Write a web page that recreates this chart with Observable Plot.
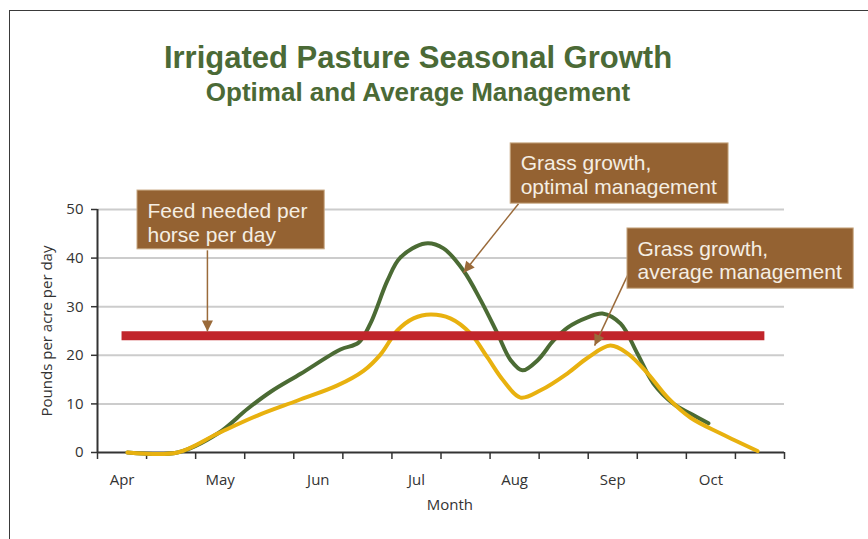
<!DOCTYPE html>
<html>
<head>
<meta charset="utf-8">
<script src="https://cdn.jsdelivr.net/npm/d3@7"></script>
<script src="https://cdn.jsdelivr.net/npm/@observablehq/plot@0.6"></script>
<style>
  body { margin: 0; background: #fff; }
  #wrap { position: relative; width: 868px; height: 539px; overflow: hidden; font-family: "Liberation Sans", Arial, sans-serif; }
  #frame { position: absolute; left: 9px; top: 10px; right: -2px; bottom: -2px; border-top: 1px solid #3a3a3a; border-left: 1px solid #3a3a3a; }
  .t { position: absolute; left: 0; width: 836px; text-align: center; color: #4b6a36; font-weight: bold; white-space: nowrap; }
  #title { top: 42px; font-size: 31px; line-height: 31px; }
  #subtitle { top: 79px; font-size: 26px; line-height: 26px; }
  #chart { position: absolute; left: 0; top: 120px; }
</style>
</head>
<body>
<div id="wrap">
  <div id="frame"></div>
  <div id="title" class="t">Irrigated Pasture Seasonal Growth</div>
  <div id="subtitle" class="t">Optimal and Average Management</div>
  <div id="chart"></div>
</div>
<script>
// ---- Data (x in half-month steps from the start of April) ----
const months = ["Apr", "May", "Jun", "Jul", "Aug", "Sep", "Oct"];
const monthPos = [0.5, 2.5, 4.5, 6.5, 8.5, 10.5, 12.5];
const halfMonthTicks = [0, 1, 2, 3, 4, 5, 6, 7, 8, 9, 10, 11, 12, 13, 14];
const yTicks = [0, 10, 20, 30, 40, 50];
const yGrid = [10, 20, 30, 40, 50];

const optimalX = [0.61, 1.63, 2.45, 3.06, 3.53, 4.14, 4.95, 5.32, 5.56, 5.91, 6.17, 6.68, 7.05, 7.46, 7.81, 8.15, 8.42, 8.66, 8.97, 9.29, 9.58, 9.99, 10.29, 10.66, 11.00, 11.33, 11.74, 12.08, 12.45];
const optimalY = [0, 0, 3.9, 9.0, 12.5, 16.2, 21.2, 22.6, 26.5, 35.4, 40.1, 43, 42, 37.4, 31.3, 24.5, 19, 16.9, 19, 23, 25.7, 27.8, 28.6, 26.5, 20.4, 14.2, 10, 8, 6];

const averageX = [0.61, 1.63, 2.45, 3.26, 4.08, 4.89, 5.42, 5.77, 6.11, 6.44, 6.79, 7.19, 7.60, 7.95, 8.27, 8.62, 9.03, 9.58, 9.99, 10.45, 10.80, 11.21, 11.62, 12.08, 12.70, 13.45];
const averageY = [0, 0, 3.9, 7.6, 10.7, 13.8, 16.8, 20.2, 25.1, 27.6, 28.4, 27.6, 24.5, 19.5, 14.8, 11.3, 12.8, 16.3, 19.5, 22, 20.4, 16.3, 11.3, 7.2, 3.9, 0.3];

const feedNeeded = 24;
const feedFrom = 0.5;
const feedTo = 13.6;

const noteText = ["Feed needed per\nhorse per day", "Grass growth,\noptimal management", "Grass growth,\naverage management"];
const noteLeft = [0.815, 8.42, 10.80];
const noteRight = [4.63, 12.86, 15.41];
const noteTop = [53.9, 63.6, 46.1];
const noteBottom = [41.8, 51.2, 33.7];

const arrowFromX = [2.24, 8.58, 10.80];
const arrowFromY = [41.6, 51.2, 36.4];
const arrowToX = [2.24, 7.46, 10.13];
const arrowToY = [24.9, 37.0, 22.0];

const yLabel = "Pounds per acre per day";
const xLabel = "Month";

// ---- Tables ----
const optimal = optimalX.map((x, i) => ({x, y: optimalY[i]}));
const average = averageX.map((x, i) => ({x, y: averageY[i]}));
const notes = noteText.map((text, i) => ({text, x1: noteLeft[i], x2: noteRight[i], top: noteTop[i], bottom: noteBottom[i]}));
const arrows = arrowFromX.map((x1, i) => ({x1, y1: arrowFromY[i], x2: arrowToX[i], y2: arrowToY[i]}));

const arrowHead = (color) => {
  const m = d3.create("svg:marker")
    .attr("viewBox", "-11 -5.5 11 11")
    .attr("markerWidth", 11)
    .attr("markerHeight", 11)
    .attr("markerUnits", "userSpaceOnUse")
    .attr("orient", "auto")
    .attr("overflow", "visible");
  m.append("path").attr("d", "M-11,-5.5L0,0L-11,5.5Z").attr("fill", color).attr("stroke", "none");
  return m.node();
};

const chart = Plot.plot({
  width: 868,
  height: 419,
  marginTop: 89,
  marginBottom: 87,
  marginLeft: 97,
  marginRight: 84,
  style: {fontFamily: '"Open Sans", sans-serif', fontSize: "15px", color: "#333", background: "transparent", overflow: "visible"},
  x: {domain: [0, 14]},
  y: {domain: [0, 50]},
  marks: [
    Plot.ruleY(yGrid, {x1: 0, x2: 14, stroke: "#cccccc", strokeWidth: 2}),
    Plot.axisY({ticks: yTicks, tickSize: 6, tickPadding: 8, strokeWidth: 1.5, label: null}),
    Plot.axisX({ticks: halfMonthTicks, tickSize: 7, strokeWidth: 1.5, tickFormat: () => "", label: null}),
    Plot.axisX({ticks: monthPos, tickSize: 0, tickPadding: 22, tickFormat: (d, i) => months[i], label: null}),
    Plot.ruleX([0], {y1: 0, y2: 50, stroke: "#333", strokeWidth: 2}),
    Plot.ruleY([0], {stroke: "#333", strokeWidth: 2}),
    Plot.text([yLabel], {frameAnchor: "left", textAnchor: "middle", dx: -50, rotate: -90, text: d => d, fill: "#333"}),
    Plot.text([xLabel], {x: 7.18, y: 0, dy: 53, text: d => d, fill: "#333"}),
    Plot.line(optimal, {x: "x", y: "y", curve: "catmull-rom", stroke: "#4b6b34", strokeWidth: 4}),
    Plot.line(average, {x: "x", y: "y", curve: "catmull-rom", stroke: "#e8b10f", strokeWidth: 4}),
    Plot.ruleY([feedNeeded], {x1: feedFrom, x2: feedTo, stroke: "#c1252b", strokeWidth: 9}),
    Plot.link(arrows, {x1: "x1", y1: "y1", x2: "x2", y2: "y2", stroke: "#9a6a3a", strokeWidth: 1.5, markerEnd: arrowHead}),
    Plot.rect(notes, {x1: "x1", x2: "x2", y1: "bottom", y2: "top", fill: "#946232", stroke: "#c8a983", strokeWidth: 1}),
    Plot.text(notes, {x: "x1", y: "top", text: "text", dx: 10, dy: 10, textAnchor: "start", lineAnchor: "top", lineHeight: 24 / 21, fontSize: 21, fill: "#f5eee3", fontFamily: '"Liberation Sans", Arial, sans-serif'})
  ]
});
document.getElementById("chart").appendChild(chart);
</script>
</body>
</html>
